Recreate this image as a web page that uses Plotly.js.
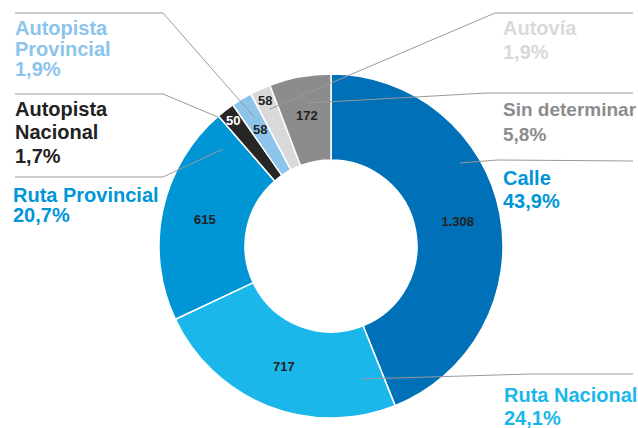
<!DOCTYPE html>
<html>
<head>
<meta charset="utf-8">
<script src="https://cdn.plot.ly/plotly-3.0.1.min.js"></script>
<style>html,body{margin:0;padding:0;background:#fff;}#chart{width:638px;height:428px;}</style>
</head>
<body>
<div id="chart"></div>
<script>
// ---- data ----
const categories = ['Calle', 'Ruta Nacional', 'Ruta Provincial', 'Autopista Nacional', 'Autopista Provincial', 'Autovía', 'Sin determinar'];
const values = [1308, 717, 615, 50, 58, 58, 172];
const labelLines = [['Calle'], ['Ruta Nacional'], ['Ruta Provincial'], ['Autopista', 'Nacional'], ['Autopista', 'Provincial'], ['Autovía'], ['Sin determinar']];

// ---- styles ----
const sliceColors = ['#0070b8', '#1bb7ea', '#0096d6', '#262626', '#8cc4ec', '#d9d9d9', '#8c8c8e'];
const labelColors = ['#0096d6', '#1bb7ea', '#0096d6', '#222222', '#8cc4ec', '#d9d9d9', '#8c8c8e'];
const valueColors = ['#222', '#222', '#222', '#ffffff', '#222', '#222', '#222'];
const W = 638, H = 428;
const CX = 331, CY = 246, R = 172;
const FONT = 'Liberation Sans, Arial, sans-serif';
const VSIZE = 13;

// external label placement (pixel coords): left x and line centres
const labelPos = [
  {x: 502, ys: [178, 201]},
  {x: 503, ys: [395, 418]},
  {x: 12, ys: [195, 215]},
  {x: 14, ys: [109, 132, 156]},
  {x: 14, ys: [28, 49, 69]},
  {x: 502, ys: [28, 52]},
  {x: 502, ys: [110, 134]}
];
// leader lines (pixel coords)
const leaders = [
  [[633, 161], [497, 160], [460, 163]],
  [[633, 374], [530, 374], [363, 379]],
  [[15, 177], [163, 177], [223, 149]],
  [[15, 94], [163, 94], [218, 117]],
  [[15, 13], [163, 13], [255, 118]],
  [[633, 13], [495, 13], [270, 109]],
  [[633, 93], [487, 93], [308, 103]]
];
// radius fraction for value labels drawn as annotations (narrow slices)
const smallLabelR = {3: 0.925, 4: 0.79, 5: 0.93, 6: 0.77};

const px = x => x / W;
const py = y => 1 - y / H;
const total = values.reduce((a, b) => a + b, 0);

const annotations = [];
categories.forEach((c, i) => {
  const pct = (values[i] / total * 100).toFixed(1).replace('.', ',') + '%';
  const lines = labelLines[i].concat([pct]);
  const size = i === 6 ? 19 : 20;
  lines.forEach((t, j) => {
    annotations.push({
      text: '<b>' + t + '</b>', x: px(labelPos[i].x), y: py(labelPos[i].ys[j]),
      xref: 'paper', yref: 'paper', xanchor: 'left', yanchor: 'middle',
      showarrow: false, borderpad: 0,
      font: {family: FONT, size: size, color: labelColors[i]}
    });
  });
});

// value labels for narrow slices placed along their mid-angle
let cum = 0;
values.forEach((v, i) => {
  const mid = (cum + v / 2) / total * 2 * Math.PI;
  cum += v;
  if (smallLabelR[i] !== undefined) {
    const r = R * smallLabelR[i];
    const x = CX + r * Math.sin(mid), y = CY - r * Math.cos(mid);
    annotations.push({
      text: '<b>' + v.toLocaleString('de-DE') + '</b>', x: px(x), y: py(y),
      xref: 'paper', yref: 'paper', xanchor: 'center', yanchor: 'middle',
      showarrow: false, borderpad: 0,
      font: {family: FONT, size: VSIZE, color: valueColors[i]}
    });
  }
});

const shapes = leaders.map(pts => ({
  type: 'path', xref: 'paper', yref: 'paper',
  path: pts.map((p, k) => (k ? 'L' : 'M') + px(p[0]) + ',' + py(p[1])).join(' '),
  line: {color: '#9a9a9a', width: 1}
}));

const trace = {
  type: 'pie',
  labels: categories,
  values: values,
  sort: false,
  direction: 'clockwise',
  rotation: 0,
  hole: 0.5,
  marker: {colors: sliceColors, line: {color: '#ffffff', width: 1.5}},
  texttemplate: '<b>%{value:,}</b>',
  textposition: values.map((v, i) => smallLabelR[i] !== undefined ? 'none' : 'inside'),
  insidetextorientation: 'horizontal',
  textfont: {family: FONT, size: VSIZE, color: valueColors},
  domain: {x: [px(CX - R), px(CX + R)], y: [py(CY + R), py(CY - R)]},
  showlegend: false,
  hoverinfo: 'label+value+percent'
};

const layout = {
  width: W, height: H,
  margin: {l: 0, r: 0, t: 0, b: 0},
  paper_bgcolor: '#ffffff',
  separators: ',.',
  showlegend: false,
  annotations: annotations,
  shapes: shapes
};

Plotly.newPlot('chart', [trace], layout, {displayModeBar: false, staticPlot: true});
</script>
</body>
</html>
